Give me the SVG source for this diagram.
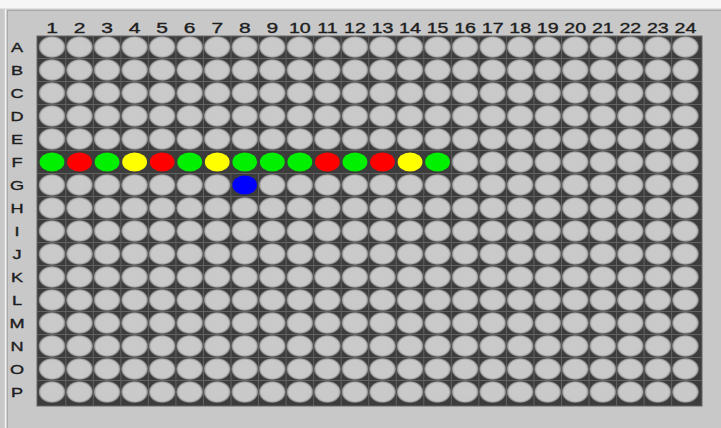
<svg xmlns="http://www.w3.org/2000/svg" xmlns:xlink="http://www.w3.org/1999/xlink" width="721" height="428" viewBox="0 0 721 428">
<style>
.cl{font-family:"Liberation Sans",Arial,sans-serif;font-size:14px;fill:#1e1e1e;stroke:#1e1e1e;stroke-width:0.35px;text-anchor:middle}
.rl{font-family:"Liberation Sans",Arial,sans-serif;font-size:12.5px;fill:#1e1e1e;stroke:#1e1e1e;stroke-width:0.35px;text-anchor:middle}
.w{fill:url(#wg)}
</style>
<defs>
<radialGradient id="wg" cx="0.5" cy="0.5" r="0.5">
<stop offset="0" stop-color="#cacaca"/>
<stop offset="0.8" stop-color="#c9c9c9"/>
<stop offset="0.9" stop-color="#a8a8a8"/>
<stop offset="1" stop-color="#5a5a5a"/>
</radialGradient>
<g id="row">
<ellipse class="w" cx="52" cy="0" rx="13.6" ry="11"/>
<ellipse class="w" cx="79.54" cy="0" rx="13.6" ry="11"/>
<ellipse class="w" cx="107.08" cy="0" rx="13.6" ry="11"/>
<ellipse class="w" cx="134.62" cy="0" rx="13.6" ry="11"/>
<ellipse class="w" cx="162.16" cy="0" rx="13.6" ry="11"/>
<ellipse class="w" cx="189.7" cy="0" rx="13.6" ry="11"/>
<ellipse class="w" cx="217.24" cy="0" rx="13.6" ry="11"/>
<ellipse class="w" cx="244.78" cy="0" rx="13.6" ry="11"/>
<ellipse class="w" cx="272.32" cy="0" rx="13.6" ry="11"/>
<ellipse class="w" cx="299.86" cy="0" rx="13.6" ry="11"/>
<ellipse class="w" cx="327.4" cy="0" rx="13.6" ry="11"/>
<ellipse class="w" cx="354.94" cy="0" rx="13.6" ry="11"/>
<ellipse class="w" cx="382.48" cy="0" rx="13.6" ry="11"/>
<ellipse class="w" cx="410.02" cy="0" rx="13.6" ry="11"/>
<ellipse class="w" cx="437.56" cy="0" rx="13.6" ry="11"/>
<ellipse class="w" cx="465.1" cy="0" rx="13.6" ry="11"/>
<ellipse class="w" cx="492.64" cy="0" rx="13.6" ry="11"/>
<ellipse class="w" cx="520.18" cy="0" rx="13.6" ry="11"/>
<ellipse class="w" cx="547.72" cy="0" rx="13.6" ry="11"/>
<ellipse class="w" cx="575.26" cy="0" rx="13.6" ry="11"/>
<ellipse class="w" cx="602.8" cy="0" rx="13.6" ry="11"/>
<ellipse class="w" cx="630.34" cy="0" rx="13.6" ry="11"/>
<ellipse class="w" cx="657.88" cy="0" rx="13.6" ry="11"/>
<ellipse class="w" cx="685.42" cy="0" rx="13.6" ry="11"/>
</g>
</defs>
<rect x="0" y="0" width="721" height="428" fill="#c8c8c8"/>
<rect x="0" y="0" width="721" height="8" fill="#f6f6f6"/>
<line x1="0" y1="8.5" x2="721" y2="8.5" stroke="#e2e2e2" stroke-width="1"/>
<line x1="5.5" y1="9" x2="5.5" y2="428" stroke="#f2f2f2" stroke-width="1.5"/>
<line x1="7.5" y1="10.5" x2="7.5" y2="428" stroke="#a9a9a9" stroke-width="1"/>
<line x1="7" y1="10.5" x2="721" y2="10.5" stroke="#a9a9a9" stroke-width="1"/>
<g id="plate">
<rect x="37" y="36" width="665" height="370" fill="#3c3c3c" stroke="#666666" stroke-width="1"/>
<path d="M65.77 36V406M93.31 36V406M120.85 36V406M148.39 36V406M175.93 36V406M203.47 36V406M231.01 36V406M258.55 36V406M286.09 36V406M313.63 36V406M341.17 36V406M368.71 36V406M396.25 36V406M423.79 36V406M451.33 36V406M478.87 36V406M506.41 36V406M533.95 36V406M561.49 36V406M589.03 36V406M616.57 36V406M644.11 36V406M671.65 36V406M37 58.5H702M37 81.5H702M37 104.5H702M37 127.5H702M37 150.5H702M37 173.5H702M37 196.5H702M37 219.5H702M37 242.5H702M37 265.5H702M37 288.5H702M37 311.5H702M37 334.5H702M37 357.5H702M37 380.5H702" stroke="#626262" stroke-width="1" fill="none"/>
<use xlink:href="#row" href="#row" y="47"/>
<use xlink:href="#row" href="#row" y="70"/>
<use xlink:href="#row" href="#row" y="93"/>
<use xlink:href="#row" href="#row" y="116"/>
<use xlink:href="#row" href="#row" y="139"/>
<use xlink:href="#row" href="#row" y="162"/>
<use xlink:href="#row" href="#row" y="185"/>
<use xlink:href="#row" href="#row" y="208"/>
<use xlink:href="#row" href="#row" y="231"/>
<use xlink:href="#row" href="#row" y="254"/>
<use xlink:href="#row" href="#row" y="277"/>
<use xlink:href="#row" href="#row" y="300"/>
<use xlink:href="#row" href="#row" y="323"/>
<use xlink:href="#row" href="#row" y="346"/>
<use xlink:href="#row" href="#row" y="369"/>
<use xlink:href="#row" href="#row" y="392"/>
</g>
<g id="marked" stroke="none">
<rect x="38" y="151" width="413" height="22" fill="#3c3c3c"/>
<rect x="231.5" y="174" width="26.5" height="22" fill="#3c3c3c"/>
<ellipse cx="52" cy="162" rx="12.4" ry="9.6" fill="#00f000"/>
<ellipse cx="79.54" cy="162" rx="12.4" ry="9.6" fill="#ff0000"/>
<ellipse cx="107.08" cy="162" rx="12.4" ry="9.6" fill="#00f000"/>
<ellipse cx="134.62" cy="162" rx="12.4" ry="9.6" fill="#ffff00"/>
<ellipse cx="162.16" cy="162" rx="12.4" ry="9.6" fill="#ff0000"/>
<ellipse cx="189.7" cy="162" rx="12.4" ry="9.6" fill="#00f000"/>
<ellipse cx="217.24" cy="162" rx="12.4" ry="9.6" fill="#ffff00"/>
<ellipse cx="244.78" cy="162" rx="12.4" ry="9.6" fill="#00f000"/>
<ellipse cx="272.32" cy="162" rx="12.4" ry="9.6" fill="#00f000"/>
<ellipse cx="299.86" cy="162" rx="12.4" ry="9.6" fill="#00f000"/>
<ellipse cx="327.4" cy="162" rx="12.4" ry="9.6" fill="#ff0000"/>
<ellipse cx="354.94" cy="162" rx="12.4" ry="9.6" fill="#00f000"/>
<ellipse cx="382.48" cy="162" rx="12.4" ry="9.6" fill="#ff0000"/>
<ellipse cx="410.02" cy="162" rx="12.4" ry="9.6" fill="#ffff00"/>
<ellipse cx="437.56" cy="162" rx="12.4" ry="9.6" fill="#00f000"/>
<ellipse cx="244.78" cy="185" rx="12.4" ry="9.6" fill="#0000ff"/>
</g>
<g id="col-labels">
<text class="cl" transform="translate(52 33) scale(1.5 1)">1</text>
<text class="cl" transform="translate(79.54 33) scale(1.5 1)">2</text>
<text class="cl" transform="translate(107.08 33) scale(1.5 1)">3</text>
<text class="cl" transform="translate(134.62 33) scale(1.5 1)">4</text>
<text class="cl" transform="translate(162.16 33) scale(1.5 1)">5</text>
<text class="cl" transform="translate(189.7 33) scale(1.5 1)">6</text>
<text class="cl" transform="translate(217.24 33) scale(1.5 1)">7</text>
<text class="cl" transform="translate(244.78 33) scale(1.5 1)">8</text>
<text class="cl" transform="translate(272.32 33) scale(1.5 1)">9</text>
<text class="cl" transform="translate(299.86 33) scale(1.4 1)">10</text>
<text class="cl" transform="translate(327.4 33) scale(1.4 1)">11</text>
<text class="cl" transform="translate(354.94 33) scale(1.4 1)">12</text>
<text class="cl" transform="translate(382.48 33) scale(1.4 1)">13</text>
<text class="cl" transform="translate(410.02 33) scale(1.4 1)">14</text>
<text class="cl" transform="translate(437.56 33) scale(1.4 1)">15</text>
<text class="cl" transform="translate(465.1 33) scale(1.4 1)">16</text>
<text class="cl" transform="translate(492.64 33) scale(1.4 1)">17</text>
<text class="cl" transform="translate(520.18 33) scale(1.4 1)">18</text>
<text class="cl" transform="translate(547.72 33) scale(1.4 1)">19</text>
<text class="cl" transform="translate(575.26 33) scale(1.4 1)">20</text>
<text class="cl" transform="translate(602.8 33) scale(1.4 1)">21</text>
<text class="cl" transform="translate(630.34 33) scale(1.4 1)">22</text>
<text class="cl" transform="translate(657.88 33) scale(1.4 1)">23</text>
<text class="cl" transform="translate(685.42 33) scale(1.4 1)">24</text>
</g>
<g id="row-labels">
<text class="rl" transform="translate(17 51.5) scale(1.45 1)">A</text>
<text class="rl" transform="translate(17 74.5) scale(1.45 1)">B</text>
<text class="rl" transform="translate(17 97.5) scale(1.45 1)">C</text>
<text class="rl" transform="translate(17 120.5) scale(1.45 1)">D</text>
<text class="rl" transform="translate(17 143.5) scale(1.45 1)">E</text>
<text class="rl" transform="translate(17 166.5) scale(1.45 1)">F</text>
<text class="rl" transform="translate(17 189.5) scale(1.45 1)">G</text>
<text class="rl" transform="translate(17 212.5) scale(1.45 1)">H</text>
<text class="rl" transform="translate(17 235.5) scale(1.45 1)">I</text>
<text class="rl" transform="translate(17 258.5) scale(1.45 1)">J</text>
<text class="rl" transform="translate(17 281.5) scale(1.45 1)">K</text>
<text class="rl" transform="translate(17 304.5) scale(1.45 1)">L</text>
<text class="rl" transform="translate(17 327.5) scale(1.45 1)">M</text>
<text class="rl" transform="translate(17 350.5) scale(1.45 1)">N</text>
<text class="rl" transform="translate(17 373.5) scale(1.45 1)">O</text>
<text class="rl" transform="translate(17 396.5) scale(1.45 1)">P</text>
</g>
</svg>
